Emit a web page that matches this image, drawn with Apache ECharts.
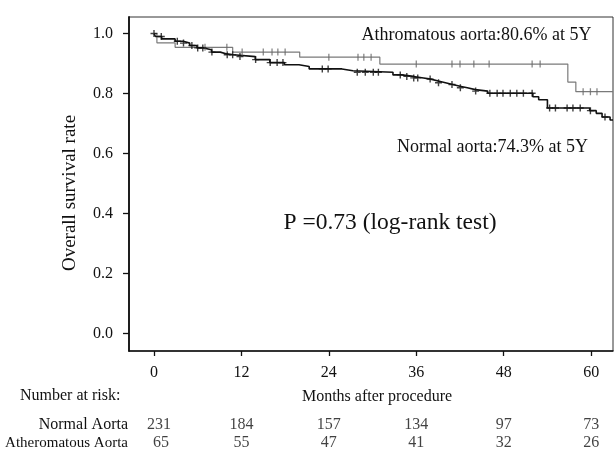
<!DOCTYPE html>
<html><head><meta charset="utf-8">
<script src="https://cdn.jsdelivr.net/npm/echarts@6/dist/echarts.min.js"></script>
<style>html,body{margin:0;padding:0;background:#fff}#c{width:614px;height:452px}</style>
</head><body><div id="c"></div>
<script>
// ---- data ----
const xTicks = [0, 12, 24, 36, 48, 60];
const yTicks = [0, 0.2, 0.4, 0.6, 0.8, 1.0];
// Kaplan-Meier steps: [month, survival after event]
const normalEvents = [[0,1.0],[0.2,0.99],[1.05,0.982],[2.9,0.974],[4.0,0.968],[4.9,0.96],[5.9,0.952],[6.8,0.946],[7.9,0.938],[9.1,0.932],[10.0,0.929],[10.9,0.923],[13.9,0.913],[15.9,0.903],[17.9,0.896],[19.9,0.89],[21.3,0.882],[25.8,0.876],[27.3,0.871],[32.8,0.862],[34.0,0.857],[35.6,0.852],[37.0,0.848],[38.0,0.842],[39.0,0.836],[40.0,0.83],[41.0,0.824],[42.0,0.819],[43.0,0.813],[44.1,0.808],[45.8,0.801],[52.0,0.789],[52.8,0.779],[54.0,0.752],[59.8,0.743],[60.7,0.734],[61.5,0.722],[62.6,0.712]];
const normalCensor = [0,1.0,3.2,4.05,5.2,6.0,6.7,7.95,10.05,10.8,11.8,13.95,15.95,16.9,17.7,23.1,23.9,27.9,29.0,30.1,30.8,33.8,34.7,35.65,36.2,37.9,39.05,40.9,42.05,44.15,46.1,47.1,47.9,48.9,49.8,50.7,51.9,54.3,55.1,56.7,57.5,58.5,59.9,61.9];
const normalFollowEnd = 63;
const atheroEvents = [[0,1.0],[0.4,0.969],[2.9,0.954],[10.8,0.938],[20.0,0.921],[31.0,0.898],[56.8,0.838],[57.9,0.806]];
const atheroCensor = [7.0,10.0,12.1,15.0,16.2,17.0,18.0,24.0,28.0,28.8,29.8,36.0,40.9,42.0,43.9,46.0,51.9,53.0,58.9,59.9,60.8];
const atheroFollowEnd = 63;
const riskGroups = ['Atheromatous Aorta', 'Normal Aorta'];
const riskNormal = [231, 184, 157, 134, 97, 73];
const riskAthero = [65, 55, 47, 41, 32, 26];

// ---- helpers ----
function survAt(ev, t) { let s = ev[0][1]; for (const [tt, ss] of ev) { if (tt <= t) s = ss; else break; } return s; }
function lineData(ev, end) { const d = ev.map(p => [p[0], p[1]]); d.push([end, ev[ev.length - 1][1]]); return d; }
const FONT = 'Liberation Serif';
const INK = '#111';

const chart = echarts.init(document.getElementById('c'), null, {renderer: 'canvas'});
const riskData = [];
xTicks.forEach((t, i) => {
  riskData.push({value: [t, 'Normal Aorta', riskNormal[i]], label: {offset: [i === 0 ? 5 : 0, 0]}});
  riskData.push({value: [t, 'Atheromatous Aorta', riskAthero[i]], label: {offset: [i === 0 ? 7 : 0, 0]}});
});

chart.setOption({
  animation: false,
  backgroundColor: '#fff',
  textStyle: {fontFamily: FONT},
  grid: [
    {left: 129, right: 1, top: 17, bottom: 101, show: true, borderColor: '#333', borderWidth: 1},
    {left: 129, right: 1, top: 416, height: 37}
  ],
  xAxis: [
    {type: 'value', min: -3.43, max: 63, gridIndex: 0,
     axisLine: {show: true, onZero: false, lineStyle: {color: INK, width: 1.5}},
     axisTick: {show: true, length: 5, customValues: xTicks, lineStyle: {color: INK, width: 1.3}},
     axisLabel: {customValues: xTicks, fontFamily: FONT, fontSize: 16, color: INK, margin: 14},
     splitLine: {show: false}},
    {type: 'value', min: -3.43, max: 63, gridIndex: 1, show: false}
  ],
  yAxis: [
    {type: 'value', min: -0.058, max: 1.055, gridIndex: 0,
     axisLine: {show: true, onZero: false, lineStyle: {color: INK, width: 1.8}},
     axisTick: {show: true, length: 6, customValues: yTicks, lineStyle: {color: INK, width: 1.3}},
     axisLabel: {customValues: yTicks, formatter: v => v.toFixed(1), fontFamily: FONT, fontSize: 16, color: INK, margin: 16},
     splitLine: {show: false}},
    {type: 'category', data: riskGroups, gridIndex: 1,
     axisLine: {show: false}, axisTick: {show: false},
     axisLabel: {interval: 0, color: INK, margin: 1,
       formatter: v => (v === 'Normal Aorta' ? '{n|' : '{a|') + v + '}',
       rich: {n: {fontFamily: FONT, fontSize: 16, color: INK}, a: {fontFamily: FONT, fontSize: 15, color: INK}}}}
  ],
  series: [
    {type: 'line', step: 'end', data: lineData(atheroEvents, atheroFollowEnd), showSymbol: false,
     lineStyle: {color: '#7a7a7a', width: 1.2}, z: 2},
    {type: 'line', step: 'end', data: lineData(normalEvents, normalFollowEnd), showSymbol: false,
     lineStyle: {color: '#111', width: 1.6}, z: 3},
    {type: 'scatter', data: atheroCensor.map(t => [t, survAt(atheroEvents, t)]),
     symbol: 'path://M0,0h1v8h-1z', symbolSize: [1.3, 7], itemStyle: {color: '#6a6a6a'}, z: 4},
    {type: 'scatter', data: normalCensor.map(t => [t, survAt(normalEvents, t)]),
     symbol: 'path://M3,0h1.5v7.5h-1.5zM0,3h7.5v1.5h-7.5z', symbolSize: 7, itemStyle: {color: '#111'}, z: 5},
    {type: 'scatter', xAxisIndex: 1, yAxisIndex: 1, data: riskData, symbolSize: 1,
     itemStyle: {color: 'rgba(0,0,0,0)'},
     label: {show: true, position: 'inside', formatter: p => String(p.value[2]), fontFamily: FONT, fontSize: 16, color: INK}}
  ],
  graphic: [
    {type: 'text', left: 20, top: 388, style: {text: 'Number at risk:', font: '16px "Liberation Serif"', fill: INK}},
    {type: 'text', x: 377, y: 397, style: {text: 'Months after procedure', font: '16px "Liberation Serif"', fill: INK, align: 'center', verticalAlign: 'middle'}},
    {type: 'text', x: 70, y: 193, rotation: Math.PI / 2, style: {text: 'Overall survival rate', font: '19px "Liberation Serif"', fill: INK, align: 'center', verticalAlign: 'middle'}},
    {type: 'text', x: 476.5, y: 35, style: {text: 'Athromatous aorta:80.6% at 5Y', font: '18px "Liberation Serif"', fill: INK, align: 'center', verticalAlign: 'middle'}},
    {type: 'text', x: 492.5, y: 147, style: {text: 'Normal aorta:74.3% at 5Y', font: '18px "Liberation Serif"', fill: INK, align: 'center', verticalAlign: 'middle'}},
    {type: 'text', x: 390, y: 223, style: {text: 'P =0.73 (log-rank test)', font: '23.5px "Liberation Serif"', fill: INK, align: 'center', verticalAlign: 'middle'}}
  ]
});
</script>
</body></html>
